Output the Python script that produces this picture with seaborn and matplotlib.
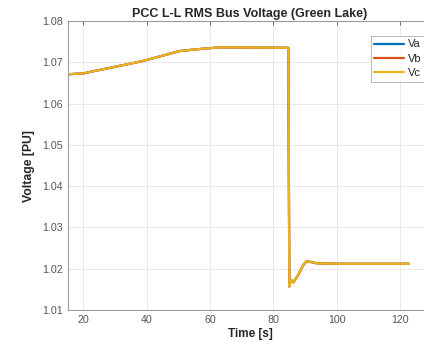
import pandas as pd
import seaborn as sns
import matplotlib.pyplot as plt

# values (three phases overlap)
time_s = [15.2, 20, 23, 30, 38.75, 45, 50.3, 55, 62.8, 70, 84.7,
          85.0, 85.5, 86.3, 87.8, 89.5, 90.5, 92, 93.7, 100, 110, 122.6]
va = [1.0671, 1.0673, 1.0678, 1.0689, 1.0703, 1.0716, 1.0727, 1.0731, 1.0736, 1.0736, 1.0735,
      1.0157, 1.0173, 1.0167, 1.0185, 1.0210, 1.0218, 1.0216, 1.0213, 1.0212, 1.0212, 1.0212]
vb = list(va)
vc = list(va)
phases = ["Va", "Vb", "Vc"]
colors = ["#0072BD", "#D95319", "#EDB120"]
y_ticks = [1.01, 1.02, 1.03, 1.04, 1.05, 1.06, 1.07, 1.08]
x_ticks = [20, 40, 60, 80, 100, 120]


def make_plot():
    sns.set_style("white")
    plt.rcParams["font.family"] = ["Liberation Sans", "DejaVu Sans"]

    df = pd.DataFrame({
        "Time": time_s * 3,
        "Voltage": va + vb + vc,
        "Phase": ["Va"] * len(va) + ["Vb"] * len(vb) + ["Vc"] * len(vc),
    })

    fig = plt.figure(figsize=(4.24, 3.49), dpi=100)
    ax = fig.add_axes([68 / 424, 1 - 310 / 349, 364 / 424, 289 / 349])

    sns.lineplot(data=df, x="Time", y="Voltage", hue="Phase", hue_order=phases,
                 palette=colors, linewidth=1.6, ax=ax)

    ax.set_xlim(15.2, 130)
    ax.set_ylim(1.01, 1.08)
    ax.set_xticks(x_ticks)
    ax.set_yticks(y_ticks)
    ax.set_yticklabels([f"{t:.2f}" for t in y_ticks])
    ax.grid(True, color="#e6e6e6", linewidth=0.6)
    ax.tick_params(direction="in", length=3, labelsize=7.7, colors="#555555",
                   top=True, right=True, width=0.6)
    for s in ax.spines.values():
        s.set_color("#9a9a9a")
        s.set_linewidth(0.8)

    ax.set_title("PCC L-L RMS Bus Voltage (Green Lake)", fontsize=9,
                 fontweight="bold", pad=3)
    ax.set_xlabel("Time [s]", fontsize=8.5, fontweight="bold", labelpad=2)
    ax.set_ylabel("Voltage [PU]", fontsize=8.8, fontweight="bold", labelpad=5)

    leg = ax.legend(loc="upper left", bbox_to_anchor=(0.816, 0.969), fontsize=8,
                    frameon=True, fancybox=False, handlelength=2.7,
                    borderpad=0.35, labelspacing=0.4, handletextpad=0.3)
    leg.get_frame().set_edgecolor("#9a9a9a")
    leg.get_frame().set_linewidth(0.6)
    for line in leg.get_lines():
        line.set_linewidth(1.6)

    fig.savefig("out.png", dpi=100)


if __name__ == "__main__":
    make_plot()
